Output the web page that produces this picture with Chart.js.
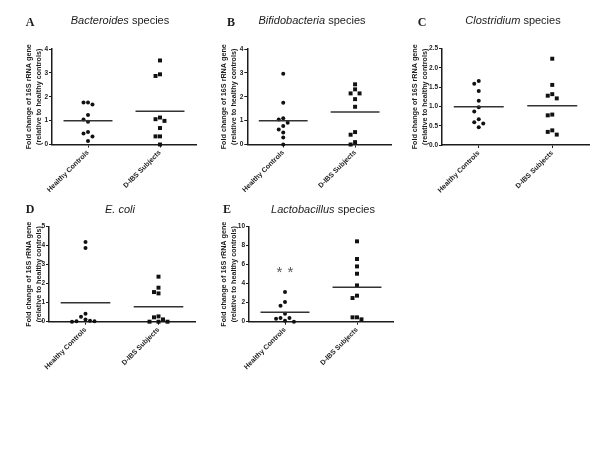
<!DOCTYPE html>
<html>
<head>
<meta charset="utf-8">
<script src="https://cdn.jsdelivr.net/npm/chart.js@4.4.0/dist/chart.umd.min.js"></script>
<style>
  html, body { margin: 0; padding: 0; background: #fff; }
  #page { position: relative; width: 600px; height: 450px; overflow: hidden; }
  #page canvas { position: absolute; }
</style>
</head>
<body>
<div id="page"></div>
<script>
// --- values (fold change, relative to healthy controls) ---
const groups = ['Healthy Controls', 'D-IBS Subjects'];

const bacteroidesHC  = [1.76, 1.68, 1.76, 1.24, 1.05, 0.95, 0.52, 0.46, 0.34, 0.15];
const bacteroidesIBS = [3.52, 2.94, 2.87, 1.13, 1.06, 0.99, 0.69, 0.34, 0.34, 0.00];

const bifidoHC  = [2.96, 1.75, 1.10, 1.05, 0.91, 0.78, 0.63, 0.50, 0.29, 0.00];
const bifidoIBS = [2.52, 2.31, 2.14, 2.14, 1.90, 1.58, 0.52, 0.41, 0.10, 0.00];

const clostridiumHC  = [1.66, 1.59, 1.40, 1.15, 0.98, 0.87, 0.67, 0.59, 0.56, 0.46];
const clostridiumIBS = [2.24, 1.56, 1.32, 1.28, 1.21, 0.79, 0.77, 0.38, 0.34, 0.27];

const ecoliHC  = [4.19, 3.88, 0.42, 0.26, 0.12, 0.05, 0.02, 0.02, 0.00];
const ecoliIBS = [2.37, 1.79, 1.56, 1.49, 0.28, 0.23, 0.12, 0.00, 0.00, 0.00];

const lactoHC  = [3.12, 2.07, 1.68, 0.84, 0.39, 0.39, 0.32, 0.10, 0.00];
const lactoIBS = [8.46, 6.60, 5.82, 5.05, 3.82, 2.74, 2.49, 0.46, 0.46, 0.25];

// y tick labels per panel
const ticks0to4  = ['0', '1', '2', '3', '4'];
const ticks0to25 = ['0.0', '0.5', '1.0', '1.5', '2.0', '2.5'];
const ticks0to5  = ['0', '1', '2', '3', '4', '5'];
const ticks0to10 = ['0', '2', '4', '6', '8', '10'];

const yTitle = ['Fold change of 16S rRNA gene', '(relative to healthy controls)'];

// --- layout of the five panels, page coordinates ---
const panels = [
  { letter: 'A', italic: 'Bacteroides', rest: ' species', hc: bacteroidesHC, ibs: bacteroidesIBS, ticks: ticks0to4,
    canvas: [0, 0, 200, 200], axisX: 52, top: 49, bottom: 144.5, right: 197,
    letterPos: [30, 23], titlePos: [120, 21], yTitleX: 29 },
  { letter: 'B', italic: 'Bifidobacteria', rest: ' species', hc: bifidoHC, ibs: bifidoIBS, ticks: ticks0to4,
    canvas: [195, 0, 200, 200], axisX: 247.3, top: 49, bottom: 144.5, right: 392,
    letterPos: [231, 23], titlePos: [312, 21], yTitleX: 224 },
  { letter: 'C', italic: 'Clostridium', rest: ' species', hc: clostridiumHC, ibs: clostridiumIBS, ticks: ticks0to25,
    canvas: [390, 0, 210, 200], axisX: 442, top: 48.7, bottom: 145, right: 589,
    letterPos: [422, 23], titlePos: [513, 21], yTitleX: 415 },
  { letter: 'D', italic: 'E. coli', rest: '', hc: ecoliHC, ibs: ecoliIBS, ticks: ticks0to5,
    canvas: [0, 190, 200, 200], axisX: 49, top: 226.7, bottom: 321.7, right: 195,
    letterPos: [30, 210], titlePos: [120, 210], yTitleX: 29 },
  { letter: 'E', italic: 'Lactobacillus', rest: ' species', hc: lactoHC, ibs: lactoIBS, ticks: ticks0to10,
    canvas: [197, 190, 200, 200], axisX: 249, top: 226.7, bottom: 321.7, right: 394,
    letterPos: [227, 210], titlePos: [323, 210], yTitleX: 224,
    note: { text: '**', value: 5.47 } }
];

const INK = '#1c1c1c';
const SANS = '"Liberation Sans", Arial, sans-serif';
const MEAN_HALF = 0.34;

// spread points that would overlap sideways, the way a dot plot does
function spread(values, thr, step) {
  const order = values.map((v, i) => i).sort((a, b) => values[b] - values[a]);
  const placed = [];
  const off = new Array(values.length).fill(0);
  order.forEach(i => {
    const v = values[i];
    for (let k = 0; k < 30; k++) {
      const slot = k === 0 ? 0 : (k % 2 ? -Math.ceil(k / 2) : k / 2);
      if (!placed.some(p => p.slot === slot && Math.abs(p.v - v) < thr)) {
        placed.push({ v, slot });
        off[i] = slot * step;
        break;
      }
    }
  });
  return off;
}

const mean = arr => arr.reduce((s, v) => s + v, 0) / arr.length;

const page = document.getElementById('page');

panels.forEach(p => {
  const [cl, ct, cw, ch] = p.canvas;
  const canvas = document.createElement('canvas');
  canvas.width = cw; canvas.height = ch;
  canvas.style.left = cl + 'px'; canvas.style.top = ct + 'px';
  canvas.style.width = cw + 'px'; canvas.style.height = ch + 'px';
  page.appendChild(canvas);

  const tickVals = p.ticks.map(parseFloat);
  const yMax = tickVals[tickVals.length - 1];
  const plotH = p.bottom - p.top;
  const plotW = p.right - p.axisX;
  const thr = 5 * yMax / plotH;
  const step = 4.5 * 2 / plotW;

  const dots = (vals, cat) => {
    const off = spread(vals, thr, step);
    return vals.map((v, i) => ({ x: cat + off[i], y: v }));
  };
  const meanLine = (vals, cat) => {
    const m = mean(vals);
    return [{ x: cat - MEAN_HALF, y: m }, { x: cat + MEAN_HALF, y: m }];
  };

  const lineH = 10;
  const yTickFont = { family: SANS, size: 6.5, weight: 'bold' };
  const xTickFont = { family: SANS, size: 7, weight: 'bold' };

  new Chart(canvas, {
    data: {
      datasets: [
        { type: 'line', data: meanLine(p.hc, 1), borderColor: '#333', borderWidth: 1.5, pointRadius: 0, clip: false },
        { type: 'line', data: meanLine(p.ibs, 2), borderColor: '#333', borderWidth: 1.5, pointRadius: 0, clip: false },
        { type: 'scatter', data: dots(p.hc, 1), pointStyle: 'circle', pointRadius: 2, backgroundColor: '#111', borderWidth: 0, clip: false },
        { type: 'scatter', data: dots(p.ibs, 2), pointStyle: 'rect', pointRadius: 2.8, backgroundColor: '#111', borderWidth: 0, clip: false }
      ]
    },
    options: {
      responsive: false,
      animation: false,
      events: [],
      layout: {
        padding: { left: 0, top: p.top - ct, right: cw - (p.right - cl), bottom: 0 }
      },
      plugins: { legend: { display: false }, tooltip: { enabled: false }, title: { display: false } },
      scales: {
        x: {
          type: 'linear', min: 0.5, max: 2.5,
          afterFit: s => { s.height = ch - (p.bottom - ct); },
          afterBuildTicks: s => { s.ticks = [{ value: 1 }, { value: 2 }]; },
          ticks: {
            autoSkip: false, minRotation: 45, maxRotation: 45, padding: 1,
            font: xTickFont, color: INK,
            callback: v => groups[Math.round(v) - 1]
          },
          grid: { drawOnChartArea: false, tickLength: 3, color: INK, lineWidth: 1 },
          border: { color: INK, width: 1.5 }
        },
        y: {
          type: 'linear', min: 0, max: yMax,
          afterFit: s => { s.width = p.axisX - cl; },
          afterBuildTicks: s => { s.ticks = tickVals.map(v => ({ value: v })); },
          ticks: { padding: 1, font: yTickFont, color: INK, callback: (v, i) => p.ticks[i] },
          grid: { drawOnChartArea: false, tickLength: 3, color: INK, lineWidth: 1 },
          border: { color: INK, width: 1.5 },
          title: {
            display: true, text: yTitle, color: INK,
            font: { family: SANS, size: 7.2, weight: 'bold', lineHeight: lineH / 7.2 },
            padding: { top: p.yTitleX - cl - lineH / 2, bottom: 0 }
          }
        }
      }
    },
    plugins: [{
      id: 'panelText',
      afterDraw: chart => {
        const { ctx, scales: { x, y } } = chart;
        ctx.save();
        ctx.fillStyle = INK;
        ctx.textBaseline = 'middle';

        // panel letter
        ctx.textAlign = 'center';
        ctx.font = 'bold 12px "Liberation Serif", "Times New Roman", serif';
        ctx.fillText(p.letter, p.letterPos[0] - cl, p.letterPos[1] - ct);

        // title: italic genus + plain word
        ctx.textAlign = 'left';
        ctx.font = `italic 11px ${SANS}`;
        const w1 = ctx.measureText(p.italic).width;
        ctx.font = `11px ${SANS}`;
        const w2 = ctx.measureText(p.rest).width;
        const x0 = p.titlePos[0] - cl - (w1 + w2) / 2;
        const ty = p.titlePos[1] - ct;
        ctx.font = `italic 11px ${SANS}`;
        ctx.fillText(p.italic, x0, ty);
        ctx.font = `11px ${SANS}`;
        ctx.fillText(p.rest, x0 + w1, ty);

        // significance mark
        if (p.note) {
          ctx.font = `15px ${SANS}`;
          ctx.fillStyle = '#555';
          ctx.textAlign = 'center';
          ctx.textBaseline = 'alphabetic';
          const px = x.getPixelForValue(1);
          const py = y.getPixelForValue(p.note.value);
          ['*', '*'].forEach((s, i) => {
            const m = ctx.measureText(s);
            const dy = (m.actualBoundingBoxAscent - m.actualBoundingBoxDescent) / 2;
            ctx.fillText(s, px + (i ? 5.5 : -5.5), py + dy);
          });
        }
        ctx.restore();
      }
    }]
  });
});
</script>
</body>
</html>
